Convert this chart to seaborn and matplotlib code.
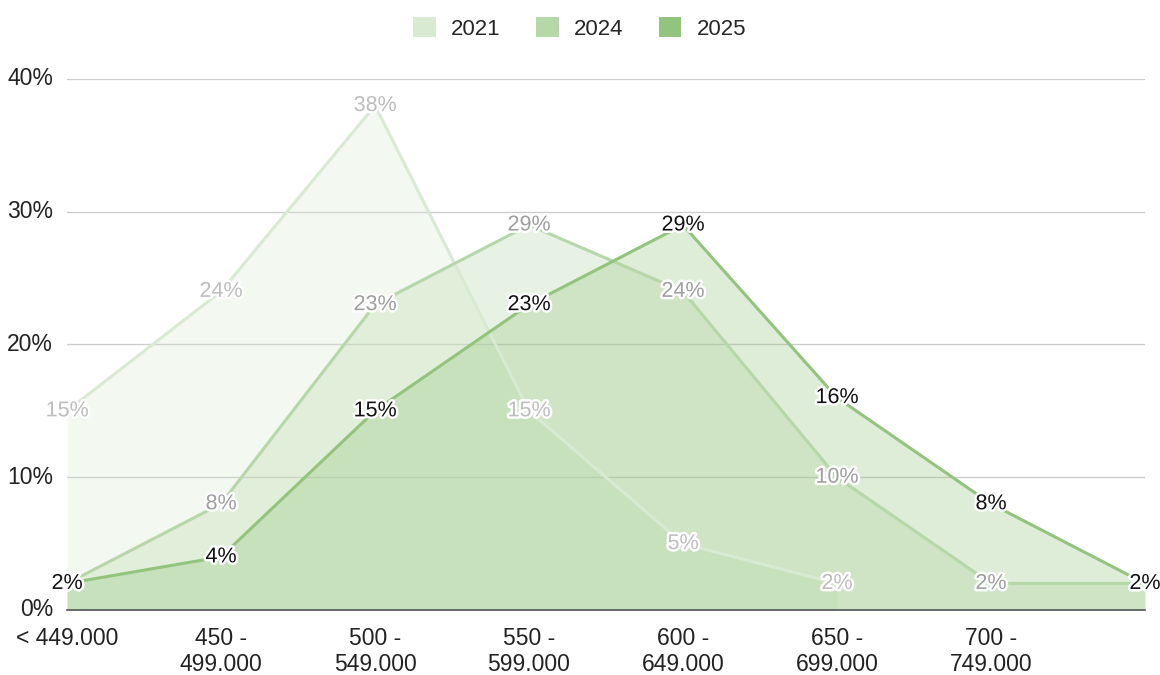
import numpy as np
import pandas as pd
import seaborn as sns
import matplotlib.pyplot as plt
import matplotlib.patheffects as pe
from matplotlib.patches import Patch

# data (share of each price bracket, %)
brackets = ['< 449.000', '450 -\n499.000', '500 -\n549.000', '550 -\n599.000',
            '600 -\n649.000', '650 -\n699.000', '700 -\n749.000', '']
years = ['2021', '2024', '2025']
vals_2021 = [15, 24, 38, 15, 5, 2, np.nan, np.nan]
vals_2024 = [2, 8, 23, 29, 24, 10, 2, 2]
vals_2025 = [2, 4, 15, 23, 29, 16, 8, 2]

line_colors = {'2021': '#d9ead3', '2024': '#b6d7a8', '2025': '#93c47d'}
label_colors = {'2021': '#bdbdbd', '2024': '#9e9e9e', '2025': '#111111'}

df = pd.DataFrame({'x': range(len(brackets)), '2021': vals_2021,
                   '2024': vals_2024, '2025': vals_2025})
df_long = df.melt(id_vars='x', var_name='year', value_name='pct').dropna()

sns.set_style('white')
plt.rcParams['font.family'] = ['Liberation Sans', 'DejaVu Sans']

fig, ax = plt.subplots(figsize=(11.6, 6.75), dpi=100)
fig.subplots_adjust(left=0.0578, right=0.987, top=0.883, bottom=0.0963)

for yr in years:
    d = df_long[df_long['year'] == yr]
    ax.fill_between(d['x'], 0, d['pct'], color=line_colors[yr], alpha=0.3,
                    linewidth=0, zorder=2)
    sns.lineplot(data=d, x='x', y='pct', color=line_colors[yr], linewidth=2.2,
                 ax=ax, zorder=3)

#%% data labels
for yr in years:
    d = df_long[df_long['year'] == yr]
    for x, v in zip(d['x'], d['pct']):
        ax.text(x, v, f'{v:.0f}%', ha='center', va='center', fontsize=15.5,
                color=label_colors[yr], zorder=5,
                path_effects=[pe.withStroke(linewidth=3.5, foreground='white')])

ax.set_xlim(0, 7)
ax.set_ylim(0, 40)
ax.set_yticks([0, 10, 20, 30, 40])
ax.set_yticklabels(['0%', '10%', '20%', '30%', '40%'])
ax.set_xticks(range(len(brackets)))
ax.set_xticklabels(brackets, linespacing=1.2)
ax.tick_params(axis='both', length=0, labelsize=16.5, colors='#222222')
ax.tick_params(axis='y', pad=10)
ax.tick_params(axis='x', pad=12)
ax.grid(axis='y', color='#cccccc', linewidth=1, zorder=0)
ax.set_axisbelow(True)
for s in ['top', 'right', 'left']:
    ax.spines[s].set_visible(False)
ax.spines['bottom'].set_color('#555555')
ax.spines['bottom'].set_linewidth(1.2)
ax.spines['bottom'].set_zorder(6)
ax.set_xlabel('')
ax.set_ylabel('')
for lbl in ax.get_yticklabels():
    lbl.set_va('center')

handles = [Patch(facecolor=line_colors[y], edgecolor='none', label=y) for y in years]
fig.legend(handles=handles, loc='center', bbox_to_anchor=(0.5, 0.958), ncol=3,
           frameon=False, fontsize=16, handlelength=1.0, handleheight=1.0,
           columnspacing=1.6, handletextpad=0.7)

plt.savefig('out.png', dpi=100)
plt.close()
